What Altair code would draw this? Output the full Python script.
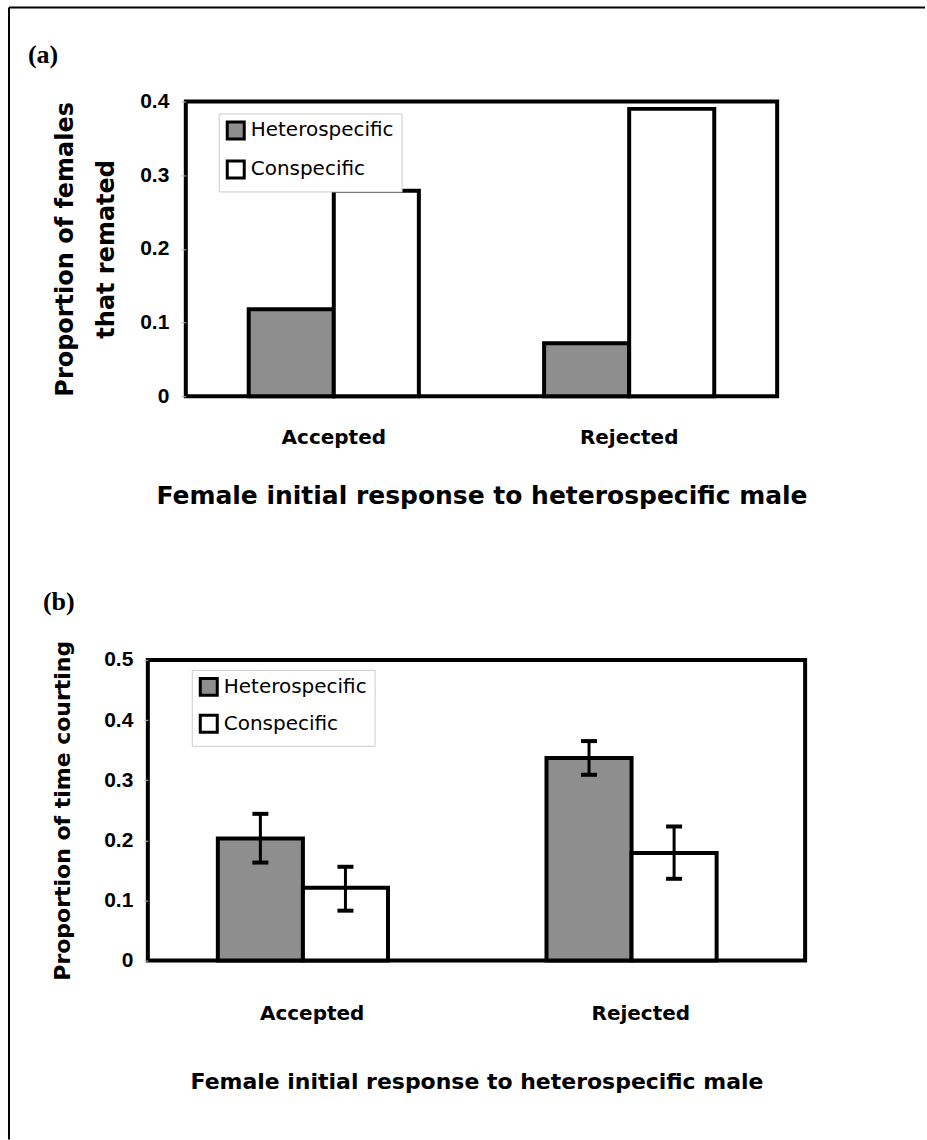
import altair as alt
import pandas as pd

# ---------------- data ----------------
responses = ["Accepted", "Rejected"]
species = ["Heterospecific", "Conspecific"]

# panel (a): proportion of females that remated
remated_hetero = [0.118, 0.072]
remated_con = [0.279, 0.390]

# panel (b): proportion of time courting (mean, lower, upper)
courting_hetero = [0.203, 0.337]
courting_con = [0.121, 0.179]
courting_hetero_lo = [0.163, 0.309]
courting_hetero_hi = [0.244, 0.365]
courting_con_lo = [0.083, 0.136]
courting_con_hi = [0.156, 0.223]

yticks_a = [0, 0.1, 0.2, 0.3, 0.4]
yticks_b = [0, 0.1, 0.2, 0.3, 0.4, 0.5]

xtitle = "Female initial response to heterospecific male"

rows_a = []
for i, r in enumerate(responses):
    rows_a.append({"response": r, "species": species[0], "value": remated_hetero[i]})
    rows_a.append({"response": r, "species": species[1], "value": remated_con[i]})
dfa = pd.DataFrame(rows_a)

rows_b = []
for i, r in enumerate(responses):
    rows_b.append({"response": r, "species": species[0], "value": courting_hetero[i],
                   "lo": courting_hetero_lo[i], "hi": courting_hetero_hi[i]})
    rows_b.append({"response": r, "species": species[1], "value": courting_con[i],
                   "lo": courting_con_lo[i], "hi": courting_con_hi[i]})
dfb = pd.DataFrame(rows_b)

# ---------------- styles ----------------
SANS = "DejaVu Sans"
NUM = "Liberation Sans"
SERIF = "Liberation Serif"
GRAY = "#8e8e8e"
LABEL_EXPR = "datum.value == 0 ? '0' : format(datum.value, '.1f')"


def make_legend(x, y, rowpad):
    return alt.Legend(title=None, orient="none", legendX=x, legendY=y, direction="vertical",
                      fillColor="white", strokeColor="#cccccc", padding=7,
                      symbolType="square", symbolSize=289, symbolStrokeColor="black",
                      symbolStrokeWidth=3, labelFont=SANS, labelFontSize=20,
                      labelColor="black", labelOffset=5, rowPadding=rowpad, labelLimit=400)


xo = alt.XOffset("species:N", sort=species, scale=alt.Scale(paddingInner=0, paddingOuter=0))

# ---------------- panel (a) ----------------
x_a = alt.X("response:N", sort=responses,
            scale=alt.Scale(paddingInner=0.424, paddingOuter=0.213),
            axis=alt.Axis(title=xtitle, labelAngle=0, ticks=False, domain=False,
                          labelFont=SANS, labelFontWeight="bold", labelFontSize=20,
                          labelColor="black", labelPadding=31,
                          titleFont=SANS, titleFontWeight="bold", titleFontSize=25,
                          titleColor="black", titlePadding=36))
y_a = alt.Y("value:Q", scale=alt.Scale(domain=[0, 0.4], nice=False),
            axis=alt.Axis(title=["Proportion of females", "that remated"], values=yticks_a,
                          labelExpr=LABEL_EXPR, grid=False, domain=False,
                          tickColor="#bbbbbb", tickSize=5, tickWidth=1,
                          labelFont=NUM, labelFontWeight="bold", labelFontSize=21,
                          labelColor="black", labelPadding=12,
                          titleFont=SANS, titleFontWeight="bold", titleFontSize=24,
                          titleColor="black", titleLineHeight=41, titlePadding=21))
fill_a = alt.Fill("species:N", sort=species,
                  scale=alt.Scale(domain=species, range=[GRAY, "white"]),
                  legend=make_legend(33, 12, 9))

panel_a = alt.Chart(dfa).mark_bar(stroke="black", strokeWidth=4).encode(
    x=x_a, xOffset=xo, y=y_a, fill=fill_a
).properties(
    width=592, height=295,
    view=alt.ViewBackground(stroke="black", strokeWidth=4),
    title=alt.TitleParams("(a)", anchor="start", frame="group", dx=-158, offset=23,
                          font=SERIF, fontSize=26, fontWeight="bold", color="black"),
)

# ---------------- panel (b) ----------------
x_b = alt.X("response:N", sort=responses,
            scale=alt.Scale(paddingInner=0.426, paddingOuter=0.213),
            axis=alt.Axis(title=xtitle, labelAngle=0, ticks=False, domain=False,
                          labelFont=SANS, labelFontWeight="bold", labelFontSize=20,
                          labelColor="black", labelPadding=43,
                          titleFont=SANS, titleFontWeight="bold", titleFontSize=22,
                          titleColor="black", titlePadding=48))
ysc_b = alt.Scale(domain=[0, 0.5], nice=False)
yax_b = alt.Axis(title="Proportion of time courting", values=yticks_b,
                 labelExpr=LABEL_EXPR, grid=False, domain=False,
                 tickColor="#bbbbbb", tickSize=4, tickWidth=1,
                 labelFont=NUM, labelFontWeight="bold", labelFontSize=21,
                 labelColor="black", labelPadding=11,
                 titleFont=SANS, titleFontWeight="bold", titleFontSize=22,
                 titleColor="black", titlePadding=29)
fill_b = alt.Fill("species:N", sort=species,
                  scale=alt.Scale(domain=species, range=[GRAY, "white"]),
                  legend=make_legend(44, 10, 7))

base_b = alt.Chart(dfb)
bars_b = base_b.mark_bar(stroke="black", strokeWidth=4).encode(
    x=x_b, xOffset=xo, y=alt.Y("value:Q", scale=ysc_b, axis=yax_b), fill=fill_b)
err_b = base_b.mark_rule(color="black", strokeWidth=3, opacity=1).encode(
    x=x_b, xOffset=xo, y=alt.Y("lo:Q", scale=ysc_b, axis=yax_b), y2="hi:Q")
cap_lo = base_b.mark_tick(color="black", thickness=4, size=16, opacity=1).encode(
    x=x_b, xOffset=xo, y=alt.Y("lo:Q", scale=ysc_b, axis=yax_b))
cap_hi = base_b.mark_tick(color="black", thickness=4, size=16, opacity=1).encode(
    x=x_b, xOffset=xo, y=alt.Y("hi:Q", scale=ysc_b, axis=yax_b))

panel_b = alt.layer(bars_b, err_b, cap_lo, cap_hi).properties(
    width=658, height=301,
    view=alt.ViewBackground(stroke="black", strokeWidth=4),
    title=alt.TitleParams("(b)", anchor="start", frame="group", dx=-105, offset=25,
                          font=SERIF, fontSize=26, fontWeight="bold", color="black"),
)

# ---------------- figure frame (left and top border lines) ----------------
frame_df = pd.DataFrame({"k": [0]})
left_line = alt.Chart(frame_df).mark_rule(color="black", strokeWidth=2).encode(
    x=alt.value(-139), y=alt.value(-94), y2=alt.value(1039))
top_line = alt.Chart(frame_df).mark_rule(color="black", strokeWidth=2).encode(
    x=alt.value(-139), x2=alt.value(778), y=alt.value(-94))
spacer = alt.layer(left_line, top_line).properties(
    width=18, height=1, view=alt.ViewBackground(stroke="transparent"))

top_row = alt.hconcat(spacer, panel_a, spacing=20, bounds="flush").resolve_scale(
    fill="independent").resolve_legend(fill="independent")
chart = alt.vconcat(top_row, panel_b, spacing=559, bounds="flush").resolve_scale(
    fill="independent").resolve_legend(fill="independent").properties(
    padding={"left": 7, "top": 5, "right": 0, "bottom": 0},
    background="white",
)

chart.save("out.html", embed_options={"renderer": "svg", "actions": False})
